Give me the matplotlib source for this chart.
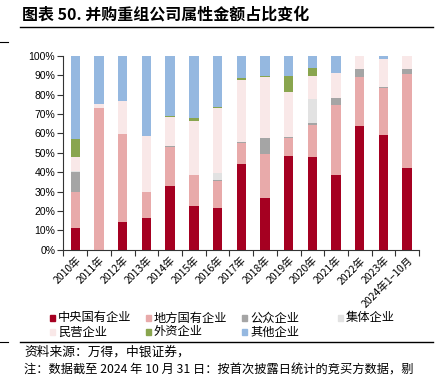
import matplotlib
matplotlib.use("Agg")
import matplotlib.pyplot as plt
from matplotlib.patches import Rectangle
from matplotlib.lines import Line2D
import numpy as np

plt.rcParams['font.family'] = ['Noto Sans CJK SC', 'DejaVu Sans']

categories = ["2010年", "2011年", "2012年", "2013年", "2014年", "2015年", "2016年",
              "2017年", "2018年", "2019年", "2020年", "2021年", "2022年", "2023年",
              "2024年1−10月"]

central    = [11.0, 0.0, 14.5, 16.5, 32.9, 22.6, 21.4, 44.4, 26.7, 48.4, 48.0, 38.4, 64.0, 59.4, 42.3]
local      = [19.0, 73.3, 45.4, 13.3, 20.0, 15.8, 14.1, 10.7, 22.7, 9.3, 16.5, 36.3, 25.2, 23.9, 48.6]
public     = [10.3, 0.0, 0.0, 0.0, 0.4, 0.0, 0.5, 0.5, 8.4, 0.6, 0.9, 3.5, 3.9, 0.7, 2.4]
collective = [0.3, 0.0, 0.0, 0.0, 0.0, 0.0, 3.8, 0.0, 0.0, 0.0, 12.4, 0.0, 0.0, 0.0, 0.0]
private    = [7.1, 1.9, 16.9, 28.9, 15.2, 28.0, 33.2, 32.0, 31.2, 23.3, 12.0, 12.9, 6.9, 14.6, 6.7]
foreign    = [9.4, 0.0, 0.0, 0.0, 0.5, 1.8, 0.8, 0.9, 0.7, 8.2, 4.2, 0.0, 0.0, 0.0, 0.0]
others     = [42.9, 24.8, 23.2, 41.3, 31.0, 31.8, 26.2, 11.5, 10.3, 10.2, 6.0, 8.9, 0.0, 1.4, 0.0]

series_names = ["中央国有企业", "地方国有企业", "公众企业", "集体企业", "民营企业", "外资企业", "其他企业"]
series_vals = [central, local, public, collective, private, foreign, others]
colors = ["#A50021", "#E8AAAA", "#A5A5A5", "#E2E2E2", "#F9E8E8", "#89A54E", "#95B8E0"]

W, H = 442, 376
fig = plt.figure(figsize=(W / 100, H / 100), dpi=100)
ax = fig.add_axes([63.5 / W, 1 - 249.7 / H, (419 - 63.5) / W, (249.7 - 56) / H])

x = np.arange(len(categories))
bottom = np.zeros(len(categories))
for name, vals, c in zip(series_names, series_vals, colors):
    v = np.array(vals)
    ax.bar(x, v, width=0.4, bottom=bottom, color=c, linewidth=0, label=name)
    bottom += v

ax.set_xlim(-0.5, len(categories) - 0.5)
ax.set_ylim(0, 100)
ax.set_yticks(np.arange(0, 101, 10))
ax.set_yticklabels([f"{v}%" for v in range(0, 101, 10)], family=['Liberation Sans', 'DejaVu Sans'], fontsize=7.5)
ax.set_xticks(x)
ax.set_xticklabels(categories, rotation=45, ha='right', rotation_mode='anchor', fontsize=7.5)
ax.set_xticks(np.arange(-0.5, len(categories), 1), minor=True)
ax.tick_params(axis='x', which='major', length=0, pad=4)
ax.tick_params(axis='x', which='minor', length=4, width=0.8, color='#333333', direction='out')
ax.tick_params(axis='y', length=4, width=0.8, color='#333333', pad=2)
for s in ['top', 'right']:
    ax.spines[s].set_visible(False)
for s in ['left', 'bottom']:
    ax.spines[s].set_color('#333333')
    ax.spines[s].set_linewidth(0.8)

# Title
fig.text(22 / W, 1 - 15 / H, "图表 50. 并购重组公司属性金额占比变化", fontsize=11.5, fontweight='bold',
         va='center', ha='left')
fig.add_artist(Line2D([20 / W, 433 / W], [1 - 27 / H, 1 - 27 / H], color='black', lw=1))
fig.add_artist(Line2D([0, 8 / W], [1 - 42 / H, 1 - 42 / H], color='black', lw=0.8))

# Legend (manual, row-major)
col_x = [50, 146, 242, 338]
row_y = [318, 332]
for i, (name, c) in enumerate(zip(series_names, colors)):
    r, k = divmod(i, 4)
    px, py = col_x[k], row_y[r]
    fig.add_artist(Rectangle((px / W, 1 - (py + 2.7) / H), 5.4 / W, 5.4 / H, color=c,
                             transform=fig.transFigure))
    fig.text((px + 8) / W, 1 - py / H, name, fontsize=8.8, va='center', ha='left')

fig.add_artist(Line2D([20 / W, 433 / W], [1 - 341.5 / H, 1 - 341.5 / H], color='black', lw=1))
fig.add_artist(Line2D([0, 8 / W], [1 - 342 / H, 1 - 342 / H], color='black', lw=0.8))

fig.text(24 / W, 1 - 352 / H, "资料来源：万得，中银证券，", fontsize=9.2, va='center', ha='left', style='italic')
fig.text(24 / W, 1 - 370 / H, "注：数据截至 2024 年 10 月 31 日：按首次披露日统计的竞买方数据，剔",
         fontsize=8.8, va='center', ha='left', style='italic')

fig.savefig("out.png", dpi=100)
